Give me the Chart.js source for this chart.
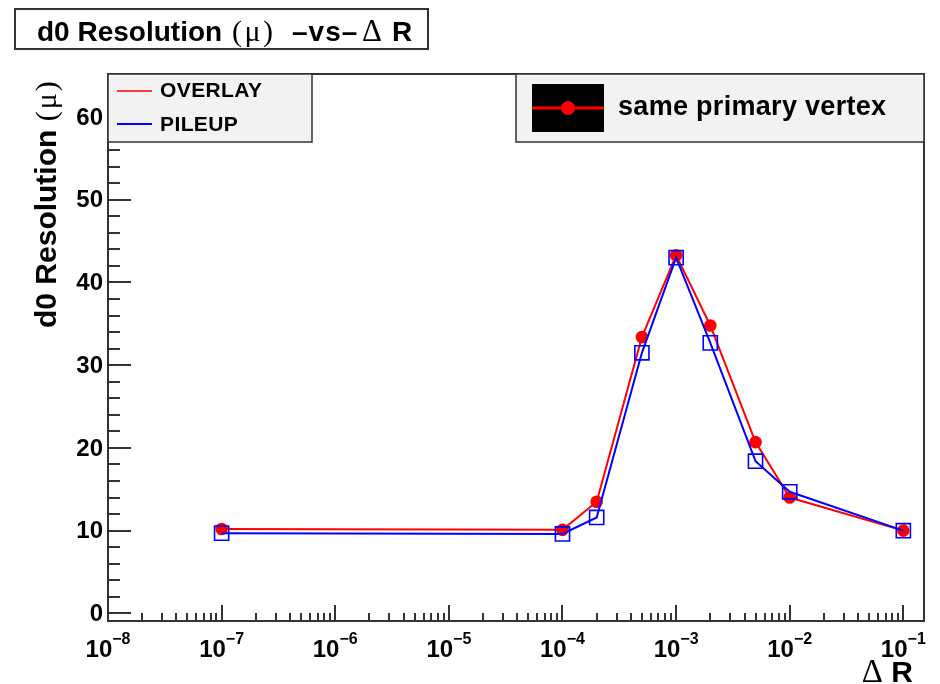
<!DOCTYPE html>
<html>
<head>
<meta charset="utf-8">
<script src="https://cdn.jsdelivr.net/npm/chart.js@4"></script>
<style>
  body { margin: 0; background: #fff; }
</style>
</head>
<body>
<canvas id="myChart" width="940" height="684"></canvas>
<script>
// data
let deltaR = [1e-7, 1e-4, 2e-4, 5e-4, 1e-3, 2e-3, 5e-3, 1e-2, 1e-1];
let overlay = [10.2, 10.1, 13.5, 33.4, 43.3, 34.8, 20.7, 14.0, 10.0];
let pileup = [9.7, 9.6, 11.6, 31.5, 43.0, 32.7, 18.4, 14.7, 10.0];
let yTicks = [0, 10, 20, 30, 40, 50, 60];
let xDecades = [-8, -7, -6, -5, -4, -3, -2, -1];

const SANS = '"Liberation Sans", Arial, sans-serif';
const SERIF = '"Liberation Serif", "DejaVu Serif", serif';

// draws text made of pieces [text, font, letterSpacing], left to right
function drawParts(c, parts, x, y) {
    let px = x;
    parts.forEach(p => {
        c.font = p[1];
        c.letterSpacing = (p[2] || 0) + 'px';
        c.fillText(p[0], px, y);
        px += c.measureText(p[0]).width;
    });
    c.letterSpacing = '0px';
    return px - x;
}
function partsWidth(c, parts) {
    let w = 0;
    parts.forEach(p => {
        c.font = p[1];
        c.letterSpacing = (p[2] || 0) + 'px';
        w += c.measureText(p[0]).width;
    });
    c.letterSpacing = '0px';
    return w;
}
function seg(c, x1, y1, x2, y2) {
    c.beginPath(); c.moveTo(x1, y1); c.lineTo(x2, y2); c.stroke();
}

// ROOT style frame, inward ticks, labels, title and legend boxes
const rootFrame = {
    id: 'rootFrame',
    beforeDatasetsDraw(chart) {
        const c = chart.ctx, a = chart.chartArea;
        const xs = chart.scales.x, ys = chart.scales.y;
        c.save();
        c.strokeStyle = '#333';
        c.lineWidth = 2;
        // y ticks, minor every 2
        for (let v = 0; v <= ys.max; v += 2) {
            const p = Math.round(ys.getPixelForValue(v));
            const len = v % 10 === 0 ? 23 : 12;
            seg(c, a.left, p, a.left + len, p);
        }
        // x ticks, log decades
        xDecades.forEach(d => {
            for (let m = 1; m <= 9; m++) {
                const val = m * Math.pow(10, d);
                if (val > xs.max) break;
                const p = Math.round(xs.getPixelForValue(val));
                seg(c, p, a.bottom, p, a.bottom - (m === 1 ? 16 : 8));
            }
        });
        c.strokeRect(a.left, a.top, a.right - a.left, a.bottom - a.top);
        c.restore();
    },
    afterDraw(chart) {
        const c = chart.ctx, a = chart.chartArea;
        const xs = chart.scales.x, ys = chart.scales.y;
        c.save();
        c.fillStyle = '#000';

        // y tick labels
        c.font = 'bold 24px ' + SANS;
        c.textAlign = 'right';
        c.textBaseline = 'middle';
        yTicks.forEach(v => {
            c.fillText(String(v), a.left - 5, ys.getPixelForValue(v) + 1);
        });

        // x tick labels 10^d
        c.textAlign = 'left';
        c.textBaseline = 'alphabetic';
        xDecades.forEach(d => {
            const base = '10', sup = '\u2212' + Math.abs(d);
            c.font = 'bold 24px ' + SANS;
            const wb = c.measureText(base).width;
            c.font = 'bold 16px ' + SANS;
            const ws = c.measureText(sup).width;
            const x0 = xs.getPixelForValue(Math.pow(10, d)) - (wb + ws) / 2;
            c.font = 'bold 24px ' + SANS;
            c.fillText(base, x0, 657);
            c.font = 'bold 16px ' + SANS;
            c.fillText(sup, x0 + wb, 644);
        });

        // x axis title
        const xt = [['\u0394', '33px ' + SERIF], [' R', 'bold 30px ' + SANS]];
        drawParts(c, xt, 913 - partsWidth(c, xt), 682);

        // y axis title
        c.save();
        c.translate(56, 328);
        c.rotate(-Math.PI / 2);
        drawParts(c, [['d0 Resolution ', 'bold 30px ' + SANS], ['(\u03bc)', '30px ' + SERIF, 2]], 0, 0);
        c.restore();

        // title box
        c.fillStyle = '#fff';
        c.fillRect(15, 9, 413, 40);
        c.strokeStyle = '#333';
        c.lineWidth = 2;
        c.strokeRect(15, 9, 413, 40);
        c.fillStyle = '#000';
        drawParts(c, [['d0 Resolution', 'bold 28px ' + SANS]], 37, 41);
        drawParts(c, [['(\u03bc)', '30px ' + SERIF, 2.5]], 232, 41);
        drawParts(c, [['\u2013vs\u2013', 'bold 28px ' + SANS, 1]], 292, 41);
        drawParts(c, [['\u0394', '31px ' + SERIF]], 362, 41);
        drawParts(c, [['R', 'bold 28px ' + SANS]], 392, 41);

        // legend: OVERLAY / PILEUP
        c.fillStyle = '#f2f2f2';
        c.fillRect(a.left, a.top, 204, 68);
        c.lineWidth = 1.5;
        c.strokeRect(a.left, a.top, 204, 68);
        c.strokeStyle = '#ff0000';
        c.lineWidth = 1.5;
        seg(c, 117, 91, 152, 91);
        c.strokeStyle = '#0000ff';
        c.lineWidth = 2;
        seg(c, 117, 124, 152, 124);
        c.fillStyle = '#000';
        c.textBaseline = 'middle';
        drawParts(c, [['OVERLAY', 'bold 21px ' + SANS, 0.4]], 160, 91);
        drawParts(c, [['PILEUP', 'bold 21px ' + SANS, 0.4]], 160, 125);

        // legend: same primary vertex
        c.fillStyle = '#f2f2f2';
        c.fillRect(516, a.top, a.right - 516, 68);
        c.strokeStyle = '#333';
        c.lineWidth = 1.5;
        c.strokeRect(516, a.top, a.right - 516, 68);
        c.fillStyle = '#000';
        c.fillRect(532, 84, 72, 48);
        c.strokeStyle = '#ff0000';
        c.lineWidth = 3;
        seg(c, 532, 108, 604, 108);
        c.fillStyle = '#ff0000';
        c.beginPath(); c.arc(568, 108, 7, 0, Math.PI * 2); c.fill();
        c.fillStyle = '#000';
        c.textBaseline = 'alphabetic';
        drawParts(c, [['same primary vertex', 'bold 27px ' + SANS, 0.3]], 618, 115);

        c.restore();
    }
};

let myChart = document.getElementById('myChart').getContext('2d');

let resChart = new Chart(myChart, {
    type: 'line',
    data: {
        datasets: [{
            label: 'OVERLAY',
            data: deltaR.map((x, i) => ({ x: x, y: overlay[i] })),
            borderColor: '#ff0000',
            backgroundColor: '#ff0000',
            borderWidth: 2,
            pointStyle: 'circle',
            pointRadius: 6.3,
            pointBorderWidth: 0,
            pointBackgroundColor: '#ff0000',
            order: 2
        }, {
            label: 'PILEUP',
            data: deltaR.map((x, i) => ({ x: x, y: pileup[i] })),
            borderColor: '#0000ff',
            backgroundColor: 'rgba(0,0,0,0)',
            borderWidth: 2,
            pointStyle: 'rect',
            pointRadius: 10,
            pointBorderWidth: 1.6,
            pointBorderColor: '#0000ff',
            pointBackgroundColor: 'rgba(0,0,0,0)',
            order: 1
        }]
    },
    options: {
        responsive: false,
        animation: false,
        layout: { padding: { left: 108, top: 74, right: 16, bottom: 63 } },
        plugins: {
            legend: { display: false },
            tooltip: { enabled: false }
        },
        scales: {
            x: { type: 'logarithmic', min: 1e-8, max: 0.152, display: false },
            y: { type: 'linear', min: -0.92, max: 65.2, display: false }
        }
    },
    plugins: [rootFrame]
});
</script>
</body>
</html>
